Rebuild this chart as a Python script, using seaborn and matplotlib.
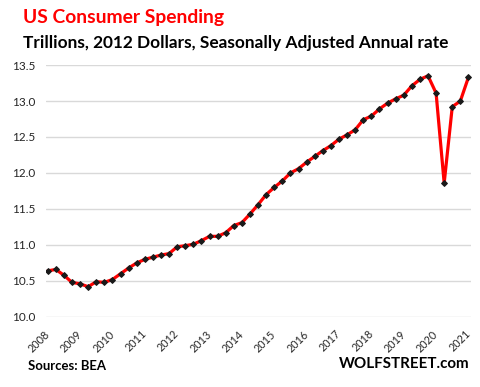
import matplotlib
matplotlib.use("Agg")
import matplotlib.pyplot as plt
import seaborn as sns
import pandas as pd
import numpy as np

# Quarterly data 2008Q1 .. 2021Q1 (trillions, 2012 dollars, SAAR)
values = [10.64, 10.66, 10.58, 10.48, 10.46, 10.42, 10.49, 10.48, 10.52, 10.60,
          10.68, 10.75, 10.80, 10.83, 10.86,
          10.88, 10.975, 10.99, 11.01, 11.06, 11.12, 11.12, 11.17, 11.27, 11.31,
          11.43, 11.56, 11.70, 11.80, 11.89, 12.00, 12.06,
          12.15, 12.23, 12.31, 12.38, 12.47, 12.53, 12.60, 12.74, 12.79, 12.89,
          12.97, 13.03, 13.08, 13.21, 13.30, 13.35, 13.11, 11.86, 12.92, 13.00, 13.33]
years = [str(y) for y in range(2008, 2022)]
y_ticks = [10.0, 10.5, 11.0, 11.5, 12.0, 12.5, 13.0, 13.5]

df = pd.DataFrame({"q": np.arange(len(values)), "v": values})

sns.set_theme(style="white")
plt.rcParams['font.family'] = ['Lato', 'DejaVu Sans']

fig = plt.figure(figsize=(4.8, 3.87), dpi=100)
ax = fig.add_axes([0.096, 0.181, 0.885, 0.651])

sns.lineplot(data=df, x="q", y="v", ax=ax, color="#ff0000", linewidth=2.3,
             marker="D", markersize=3.0, markerfacecolor="#1a1a1a",
             markeredgecolor="#1a1a1a", zorder=3)

ax.set_ylim(10.0, 13.5)
ax.set_xlim(-0.2, 52.3)
ax.set_yticks(y_ticks)
ax.set_yticklabels([f"{t:.1f}" for t in y_ticks], fontsize=8.5, color="#262626")
ax.set_xticks(np.arange(0, len(values), 4))
ax.set_xticklabels(years, rotation=45, ha="right", va="center", fontsize=7.8,
                   color="#262626", rotation_mode="anchor")
ax.tick_params(axis="y", length=0, pad=8)
ax.tick_params(axis="x", length=0, pad=11)
ax.grid(axis="y", color="#d9d9d9", linewidth=1)
ax.set_axisbelow(True)
for s in ax.spines.values():
    s.set_visible(False)
ax.set_xlabel("")
ax.set_ylabel("")

fig.text(0.048, 1 - 22.7 / 387, "US Consumer Spending", color="#ff0000",
         fontsize=13.9, fontweight="bold", ha="left", va="baseline")
fig.text(0.048, 1 - 48.3 / 387,
         "Trillions, 2012 Dollars, Seasonally Adjusted Annual rate",
         color="black", fontsize=12.4, fontweight="bold", ha="left", va="baseline")
fig.text(28.3 / 480, 1 - 369.5 / 387, "Sources: BEA", color="black",
         fontsize=9.45, fontweight="bold", ha="left", va="baseline")
fig.text(469.3 / 480, 1 - 367.5 / 387, "WOLFSTREET.com", color="black",
         fontsize=10.9, fontweight="bold", ha="right", va="baseline")

fig.savefig("out.png", dpi=100)
